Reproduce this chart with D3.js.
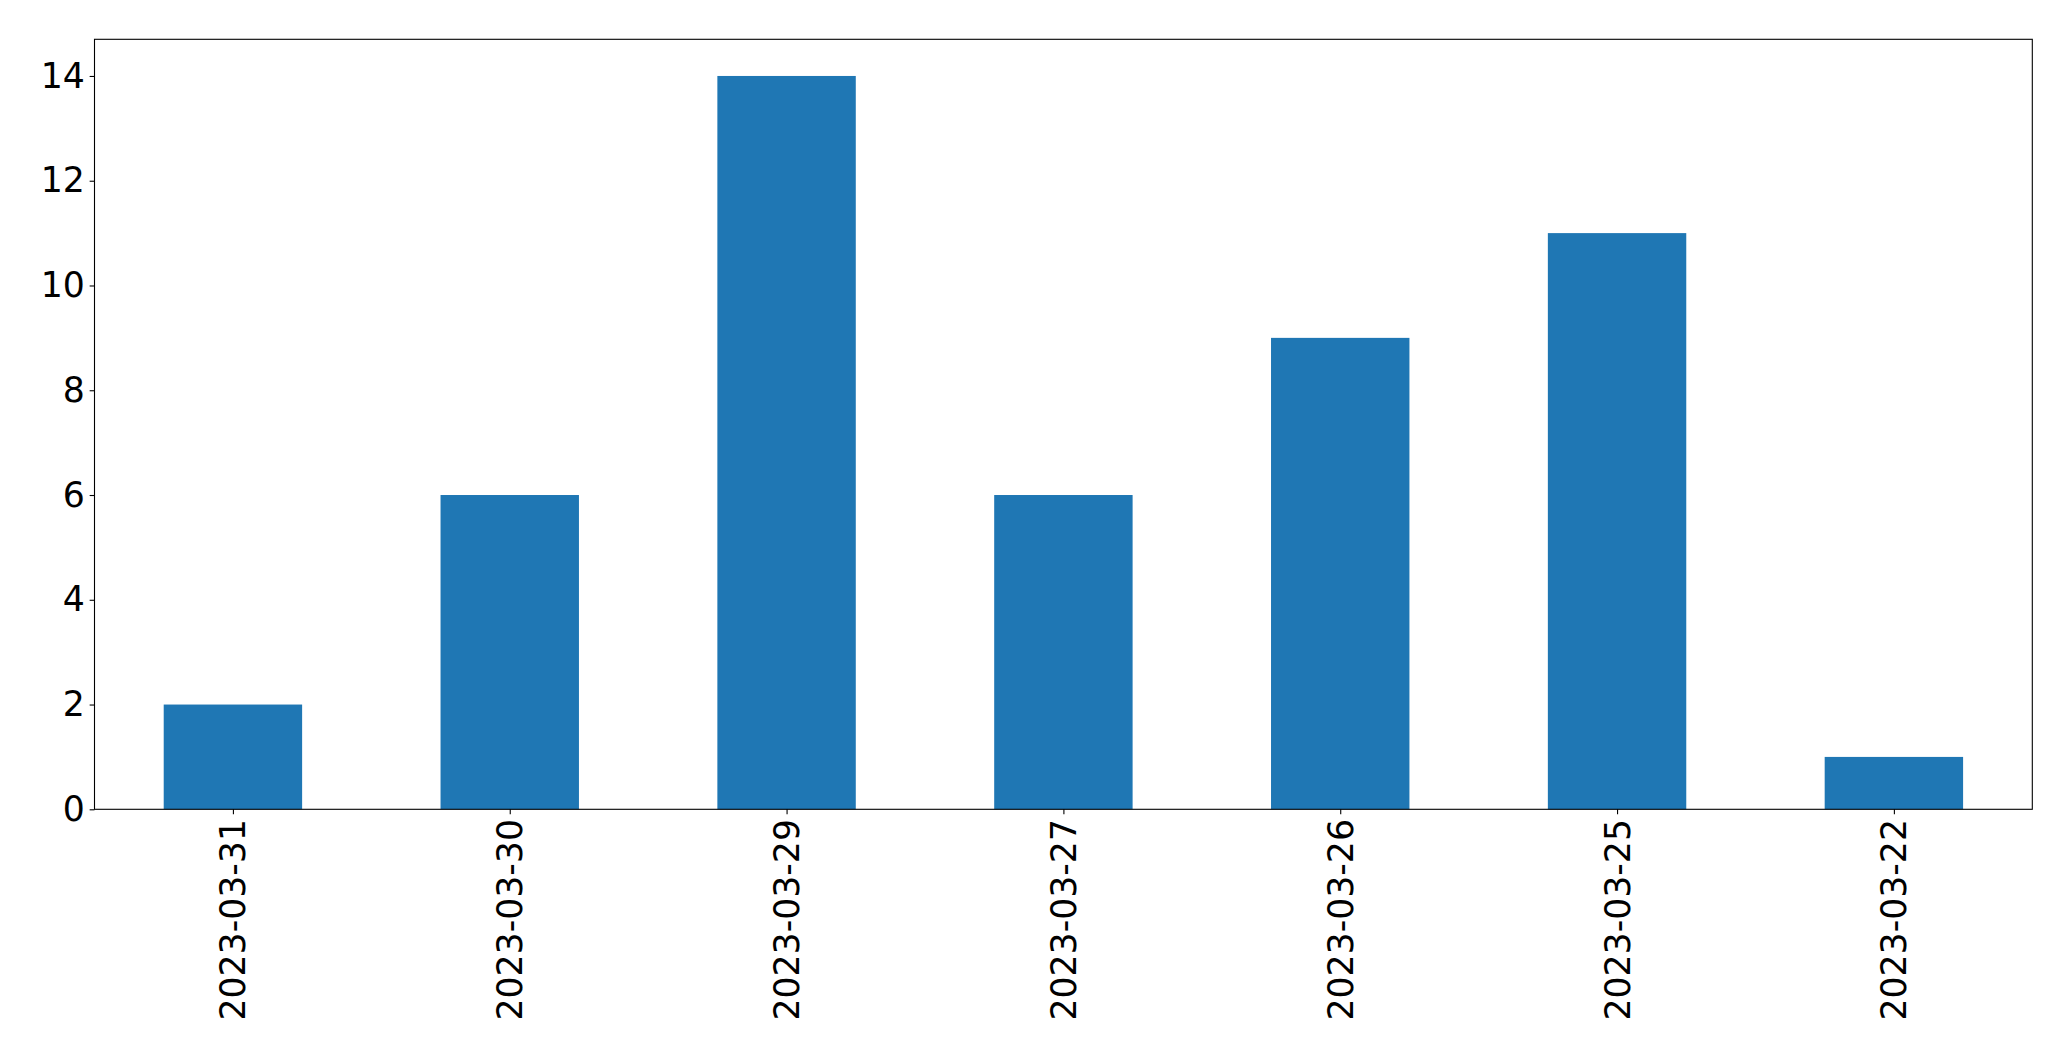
<!DOCTYPE html>
<html>
<head>
<meta charset="utf-8">
<script src="https://cdn.jsdelivr.net/npm/d3@7"></script>
<style>
  html, body { margin: 0; padding: 0; background: #fff; }
  svg { display: block; }
</style>
</head>
<body>
<script>
const categories = ["2023-03-31", "2023-03-30", "2023-03-29", "2023-03-27", "2023-03-26", "2023-03-25", "2023-03-22"];
const values = [2, 6, 14, 6, 9, 11, 1];
const yTicks = [0, 2, 4, 6, 8, 10, 12, 14];

const W = 2071, H = 1061;
const margin = { left: 94.5, right: W - 2032.3, top: 39.3, bottom: H - 809.3 };
const innerW = W - margin.left - margin.right;
const innerH = H - margin.top - margin.bottom;
const fontSize = 34.7;
const tickLen = 4.86, tickPad = 4.86;

const svg = d3.select("body").append("svg").attr("width", W).attr("height", H);
const g = svg.append("g").attr("transform", `translate(${margin.left},${margin.top})`);

// x: positions -0.5 .. n-0.5, bar width 0.5
const x = d3.scaleLinear().domain([-0.5, categories.length - 0.5]).range([0, innerW]);
const y = d3.scaleLinear().domain([0, d3.max(values) * 1.05]).range([innerH, 0]);

g.selectAll("rect.bar").data(values).enter().append("rect")
  .attr("class", "bar")
  .attr("x", (d, i) => x(i - 0.25))
  .attr("width", (d, i) => x(i + 0.25) - x(i - 0.25))
  .attr("y", d => y(d))
  .attr("height", d => y(0) - y(d))
  .attr("fill", "#1f77b4");

// y axis
const yAxis = g.append("g").call(
  d3.axisLeft(y).tickValues(yTicks).tickSize(tickLen).tickPadding(tickPad)
);
yAxis.select(".domain").remove();
yAxis.selectAll("line").attr("stroke", "#000").attr("stroke-width", 1.1);
yAxis.selectAll("text").attr("font-family", "DejaVu Sans").attr("font-size", fontSize).attr("fill", "#000");

// x axis
const xAxis = g.append("g").attr("transform", `translate(0,${innerH})`).call(
  d3.axisBottom(x).tickValues(d3.range(categories.length)).tickFormat(i => categories[i]).tickSize(tickLen).tickPadding(tickPad)
);
xAxis.select(".domain").remove();
xAxis.selectAll("line").attr("stroke", "#000").attr("stroke-width", 1.1);
xAxis.selectAll("text")
  .attr("font-family", "DejaVu Sans").attr("font-size", fontSize).attr("fill", "#000")
  .attr("text-anchor", "end")
  .attr("dy", null)
  .attr("dominant-baseline", "central")
  .attr("transform", `translate(0,${tickLen + tickPad}) rotate(-90)`)
  .attr("x", 0).attr("y", 0);

// frame
g.append("rect").attr("x", 0).attr("y", 0).attr("width", innerW).attr("height", innerH)
  .attr("fill", "none").attr("stroke", "#000").attr("stroke-width", 1.1);
</script>
</body>
</html>
